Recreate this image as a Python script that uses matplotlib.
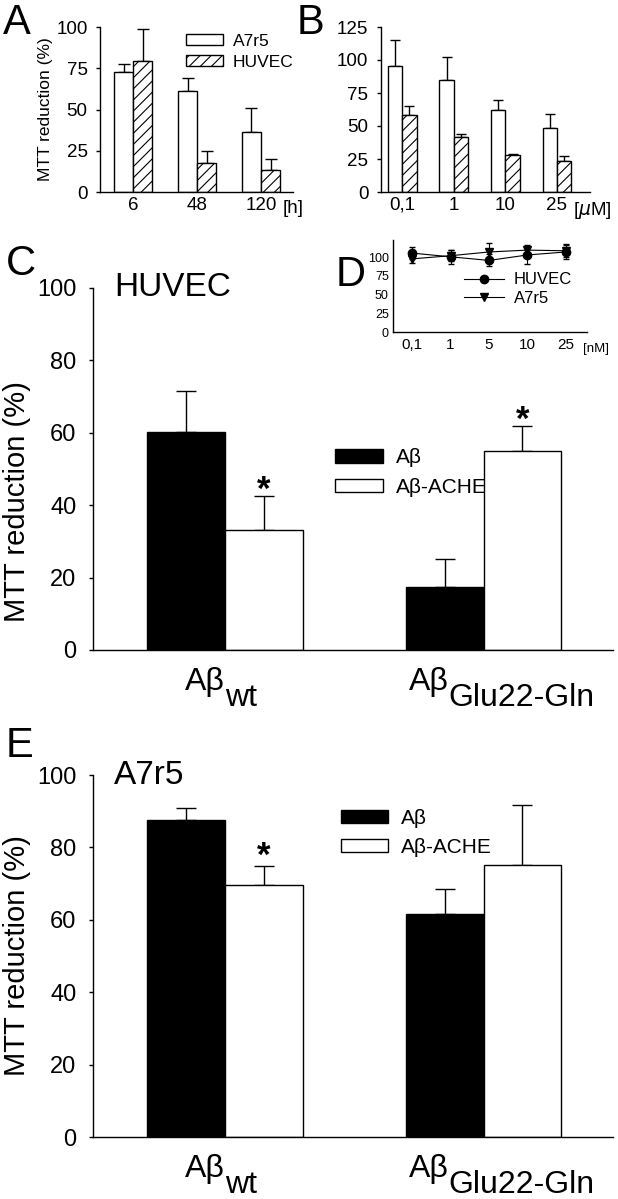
import numpy as np
import matplotlib
matplotlib.use("Agg")
import matplotlib.pyplot as plt
from matplotlib.patches import Patch
from matplotlib.lines import Line2D

plt.rcParams['font.family'] = ['Liberation Sans', 'DejaVu Sans']
plt.rcParams['hatch.linewidth'] = 0.8
plt.rcParams['axes.linewidth'] = 1.0

# panel A: time course (h)
hours = ['6', '48', '120']
a_a7r5 = [73, 61.5, 36.5]
a_a7r5_err = [4.5, 7.3, 14.7]
a_huvec = [79.4, 17.8, 13.3]
a_huvec_err = [19.2, 7.2, 6.7]

# panel B: concentration (uM)
conc_b = ['0,1', '1', '10', '25']
b_a7r5 = [95.2, 84.6, 61.9, 48.5]
b_a7r5_err = [20.2, 17.7, 7.5, 10.8]
b_huvec = [58, 41.7, 27.8, 23.5]
b_huvec_err = [7, 2.5, 0.7, 3.5]

# panel D: concentration (nM)
conc_d = ['0,1', '1', '5', '10', '25']
d_huvec = [105.5, 100.5, 95.7, 103, 107]
d_huvec_err = [8, 9, 8, 12, 10]
d_a7r5 = [97.8, 102, 107, 109.5, 108.6]
d_a7r5_err = [6, 7, 12, 7, 8]

# panels C and E
groups = ['wt', 'Glu22-Gln']
c_ab = [60.3, 17.5]
c_ab_err = [11.3, 7.6]
c_ache = [33.1, 55]
c_ache_err = [9.5, 7]
e_ab = [87.6, 61.6]
e_ab_err = [3.4, 6.9]
e_ache = [69.6, 75.1]
e_ache_err = [5.3, 16.6]

W, H = 618, 1199
fig = plt.figure(figsize=(W / 100, H / 100), dpi=100)


def axes_px(x0, y0, x1, y1):
    return fig.add_axes([x0 / W, 1 - y1 / H, (x1 - x0) / W, (y1 - y0) / H])


def ftext(px, py, s, **kw):
    fig.text(px / W, 1 - py / H, s, **kw)


def style(ax, fs, pad, ticklen=3):
    for s in ['top', 'right']:
        ax.spines[s].set_visible(False)
    ax.tick_params(axis='y', direction='out', length=ticklen, width=1, labelsize=fs, pad=pad)
    ax.tick_params(axis='x', length=0, labelsize=fs)


def up_err(ax, x, v, e, cap):
    ax.errorbar(x, v, yerr=[np.zeros(len(v)), e], fmt='none', ecolor='k',
                elinewidth=1, capsize=cap, capthick=1, zorder=1)


# ---- C and E ----
def big_panel(y0, y1, ab, ab_err, ache, ache_err, title, leg_anchor, letter, letter_y, lab_y):
    ax = axes_px(93, y0, 613, y1)
    ax.patch.set_alpha(0)
    x = np.arange(len(groups))
    w = 0.3
    up_err(ax, x - w / 2, ab, ab_err, 7)
    up_err(ax, x + w / 2, ache, ache_err, 7)
    ax.bar(x - w / 2, ab, w, color='black', edgecolor='k', lw=1, zorder=2)
    ax.bar(x + w / 2, ache, w, color='white', edgecolor='k', lw=1, zorder=2)
    ax.set_xlim(-0.51, 1.5)
    ax.set_ylim(0, 100)
    ax.set_yticks([0, 20, 40, 60, 80, 100])
    ax.set_xticks(x)
    ax.set_xticklabels([])
    style(ax, 17, 9)
    ax.set_ylabel('MTT reduction (%)', fontsize=21)
    ax.yaxis.set_label_coords(-0.12, lab_y)
    ax.text(0.04, 1.0, title, transform=ax.transAxes, fontsize=24, va='center')
    shifts = [0, -35]
    for i, g in enumerate(groups):
        ax.annotate('A\u03b2', xy=(x[i], 0), xycoords=('data', 'axes fraction'),
                    xytext=(shifts[i] * 0.72, -12), textcoords='offset points',
                    ha='right', va='top', fontsize=23)
        ax.annotate(g, xy=(x[i], 0), xycoords=('data', 'axes fraction'),
                    xytext=(shifts[i] * 0.72, -24), textcoords='offset points',
                    ha='left', va='top', fontsize=23)
    ax.legend(handles=[Patch(facecolor='black', edgecolor='k', label='A\u03b2'),
                       Patch(facecolor='white', edgecolor='k', label='A\u03b2-ACHE')],
              loc='upper left', bbox_to_anchor=leg_anchor, frameon=False, fontsize=15,
              handlelength=2.3, handleheight=0.6, labelspacing=0.5, borderaxespad=0,
              handletextpad=0.6)
    ftext(6, letter_y, letter, fontsize=30)
    return ax, x, w


ax, x, w = big_panel(288, 650, c_ab, c_ab_err, c_ache, c_ache_err, 'HUVEC',
                     (0.45, 0.58), 'C', 275, 0.41)
for i in range(len(groups)):
    ax.annotate('*', xy=(x[i] + w / 2, c_ache[i] + c_ache_err[i]), xytext=(0, -3),
                textcoords='offset points', ha='center', va='baseline', fontsize=25,
                fontweight='bold')

ax, x, w = big_panel(775, 1137, e_ab, e_ab_err, e_ache, e_ache_err, 'A7r5',
                     (0.46, 0.93), 'E', 757, 0.5)
ax.annotate('*', xy=(x[0] + w / 2, e_ache[0] + e_ache_err[0]), xytext=(0, 0),
            textcoords='offset points', ha='center', va='baseline', fontsize=25,
            fontweight='bold')

# ---- A ----
ax = axes_px(100, 27, 293, 192)
x = np.arange(len(hours))
w = 0.3
up_err(ax, x - w / 2, a_a7r5, a_a7r5_err, 4)
up_err(ax, x + w / 2, a_huvec, a_huvec_err, 4)
ax.bar(x - w / 2, a_a7r5, w, color='white', edgecolor='k', lw=1, zorder=2)
ax.bar(x + w / 2, a_huvec, w, color='white', edgecolor='k', lw=1, hatch='///', zorder=2)
ax.set_xlim(-0.52, 2.5)
ax.set_ylim(0, 100)
ax.set_yticks([0, 25, 50, 75, 100])
ax.set_xticks(x)
ax.set_xticklabels(hours)
style(ax, 13.5, 6)
ax.set_ylabel('MTT reduction (%)', fontsize=12.5, labelpad=2)
ax.legend(handles=[Patch(facecolor='white', edgecolor='k', label='A7r5'),
                   Patch(facecolor='white', edgecolor='k', hatch='///', label='HUVEC')],
          loc='upper left', bbox_to_anchor=(0.41, 1.0), frameon=False, fontsize=12.5,
          handlelength=2.1, handleheight=0.6, labelspacing=0.35, borderaxespad=0,
          handletextpad=0.6)
ftext(283, 213, '[h]', fontsize=13.5)
ftext(3, 34, 'A', fontsize=30)

# ---- B ----
ax = axes_px(381, 27, 590, 192)
x = np.arange(len(conc_b))
w = 0.28
up_err(ax, x - w / 2, b_a7r5, b_a7r5_err, 3.5)
up_err(ax, x + w / 2, b_huvec, b_huvec_err, 3.5)
ax.bar(x - w / 2, b_a7r5, w, color='white', edgecolor='k', lw=1, zorder=2)
ax.bar(x + w / 2, b_huvec, w, color='white', edgecolor='k', lw=1, hatch='///', zorder=2)
ax.set_xlim(-0.41, 3.64)
ax.set_ylim(0, 125)
ax.set_yticks([0, 25, 50, 75, 100, 125])
ax.set_xticks(x)
ax.set_xticklabels(conc_b)
style(ax, 13.5, 6)
ftext(573, 215, '[$\\mu$M]', fontsize=13.5)
ftext(297, 34, 'B', fontsize=30)

# ---- D (inset) ----
ax = axes_px(393, 240, 587, 332)
ax.patch.set_alpha(0)
x = np.arange(len(conc_d))
ax.errorbar(x, d_huvec, yerr=d_huvec_err, color='k', lw=0.8, marker='o', ms=6,
            capsize=2.5, elinewidth=0.8, zorder=3)
ax.errorbar(x, d_a7r5, yerr=d_a7r5_err, color='k', lw=0.8, marker='v', ms=6,
            capsize=2.5, elinewidth=0.8, zorder=3)
ax.set_xlim(-0.5, 4.55)
ax.set_ylim(0, 123)
ax.set_yticks([0, 25, 50, 75, 100])
ax.set_xticks(x)
ax.set_xticklabels(conc_d)
style(ax, 9, 3, ticklen=0)
ax.tick_params(axis='x', labelsize=11, pad=4)
ax.legend(handles=[Line2D([], [], color='k', lw=0.8, marker='o', ms=6, label='HUVEC'),
                   Line2D([], [], color='k', lw=0.8, marker='v', ms=6, label='A7r5')],
          loc='upper left', bbox_to_anchor=(0.33, 0.72), frameon=False, fontsize=12,
          handlelength=2.4, labelspacing=0.2, borderaxespad=0, handletextpad=0.6)
ftext(583, 352, '[nM]', fontsize=9.5)
ftext(336, 286, 'D', fontsize=30)

fig.savefig('out.png', dpi=100)
